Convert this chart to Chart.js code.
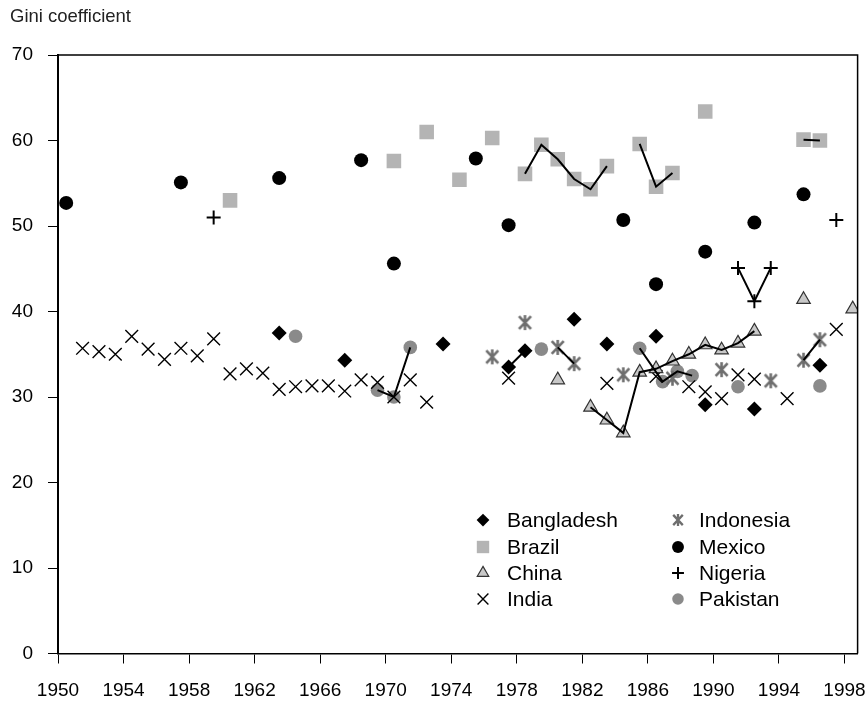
<!DOCTYPE html>
<html>
<head>
<meta charset="utf-8">
<script src="https://cdn.jsdelivr.net/npm/chart.js@4/dist/chart.umd.min.js"></script>
<style>
  body { margin: 0; background: #fff; }
</style>
</head>
<body>
<canvas id="giniChart" width="868" height="705"></canvas>
<script>
// Ticks of the year axis
let xTicks = [1950, 1954, 1958, 1962, 1966, 1970, 1974, 1978, 1982, 1986, 1990, 1994, 1998];

// Gini coefficient by country (years, values, and year ranges joined by a line)
let bangladeshYears = [1963, 1967, 1973, 1977, 1978, 1981, 1983, 1986, 1989, 1992, 1996];
let bangladeshGini = [37.5, 34.3, 36.2, 33.5, 35.4, 39.1, 36.2, 37.1, 29.1, 28.6, 33.7];
let bangladeshLinks = [[1977, 1978]];

let brazilYears = [1960, 1970, 1972, 1974, 1976, 1978, 1979, 1980, 1981, 1982, 1983, 1985, 1986, 1987, 1989, 1995, 1996];
let brazilGini = [53.0, 57.6, 61.0, 55.4, 60.3, 56.1, 59.5, 57.8, 55.5, 54.3, 57.0, 59.6, 54.6, 56.2, 63.4, 60.1, 60.0];
let brazilLinks = [[1978, 1983], [1985, 1987], [1995, 1996]];

let chinaYears = [1980, 1982, 1983, 1984, 1985, 1986, 1987, 1988, 1989, 1990, 1991, 1992, 1995, 1998];
let chinaGini = [32.0, 28.8, 27.3, 25.8, 32.9, 33.3, 34.2, 35.0, 36.1, 35.5, 36.3, 37.7, 41.4, 40.3];
let chinaLinks = [[1982, 1992]];

let indiaYears = [1951, 1952, 1953, 1954, 1955, 1956, 1957, 1958, 1959, 1960, 1961, 1962, 1963, 1964, 1965, 1966,
  1967, 1968, 1969, 1970, 1971, 1972, 1977, 1983, 1986, 1988, 1989, 1990, 1991, 1992, 1994, 1997];
let indiaGini = [35.7, 35.3, 35.0, 37.1, 35.6, 34.4, 35.7, 34.8, 36.8, 32.7, 33.3, 32.8, 30.9, 31.2, 31.3, 31.3,
  30.7, 32.0, 31.7, 30.0, 32.0, 29.4, 32.2, 31.6, 32.4, 31.2, 30.6, 29.8, 32.6, 32.1, 29.8, 37.9];
let indiaLinks = [];

let indonesiaYears = [1976, 1978, 1980, 1981, 1984, 1987, 1990, 1993, 1995, 1996];
let indonesiaGini = [34.7, 38.7, 35.8, 33.9, 32.6, 32.2, 33.2, 31.9, 34.3, 36.7];
let indonesiaLinks = [[1980, 1981], [1995, 1996]];

let mexicoYears = [1950, 1957, 1963, 1968, 1970, 1975, 1977, 1984, 1986, 1989, 1992, 1995];
let mexicoGini = [52.7, 55.1, 55.6, 57.7, 45.6, 57.9, 50.1, 50.7, 43.2, 47.0, 50.4, 53.7];
let mexicoLinks = [];

let nigeriaYears = [1959, 1991, 1992, 1993, 1997];
let nigeriaGini = [51.0, 45.1, 41.2, 45.1, 50.7];
let nigeriaLinks = [[1991, 1993]];

let pakistanYears = [1964, 1969, 1970, 1971, 1979, 1985, 1986.4, 1987.3, 1988.2, 1991, 1996];
let pakistanGini = [37.1, 30.8, 30.0, 35.8, 35.6, 35.7, 31.8, 33.0, 32.5, 31.2, 31.3];
let pakistanLinks = [[1969, 1971], [1985, 1988.2]];

// Asterisk marker for Indonesia
function makeAsterisk(size, width) {
  let c = document.createElement('canvas');
  c.width = size; c.height = size;
  let g = c.getContext('2d');
  let m = size / 2, a = size / 2 - 1;
  g.strokeStyle = '#6e6e6e';
  g.lineWidth = width;
  g.beginPath();
  g.moveTo(m, m - a); g.lineTo(m, m + a);
  g.moveTo(m - a * 0.8, m - a * 0.85); g.lineTo(m + a * 0.8, m + a * 0.85);
  g.moveTo(m + a * 0.8, m - a * 0.85); g.lineTo(m - a * 0.8, m + a * 0.85);
  g.stroke();
  return c;
}
let asterisk = makeAsterisk(17, 2.6);
let asteriskSmall = makeAsterisk(14, 2.3);

// Marker styles
let countries = [
  { label: 'Bangladesh', years: bangladeshYears, gini: bangladeshGini, links: bangladeshLinks,
    style: 'rectRot', radius: 7.5, fill: '#000', stroke: '#000', bw: 0 },
  { label: 'Brazil', years: brazilYears, gini: brazilGini, links: brazilLinks,
    style: 'rect', radius: 10.3, fill: '#b4b4b4', stroke: '#b4b4b4', bw: 0 },
  { label: 'China', years: chinaYears, gini: chinaGini, links: chinaLinks,
    style: 'triangle', radius: 7.8, fill: '#c8c8c8', stroke: '#333', bw: 1.2 },
  { label: 'India', years: indiaYears, gini: indiaGini, links: indiaLinks,
    style: 'crossRot', radius: 9, fill: '#000', stroke: '#000', bw: 1.4 },
  { label: 'Indonesia', years: indonesiaYears, gini: indonesiaGini, links: indonesiaLinks,
    style: asterisk, legendStyle: asteriskSmall, radius: 8, fill: '#6e6e6e', stroke: '#6e6e6e', bw: 0 },
  { label: 'Mexico', years: mexicoYears, gini: mexicoGini, links: mexicoLinks,
    style: 'circle', radius: 7, fill: '#000', stroke: '#000', bw: 0 },
  { label: 'Nigeria', years: nigeriaYears, gini: nigeriaGini, links: nigeriaLinks,
    style: 'cross', radius: 7, fill: '#000', stroke: '#000', bw: 2 },
  { label: 'Pakistan', years: pakistanYears, gini: pakistanGini, links: pakistanLinks,
    style: 'circle', radius: 6.8, fill: '#8a8a8a', stroke: '#8a8a8a', bw: 0 }
];

// points sit in the middle of their year
function points(c) {
  return c.years.map((y, i) => ({ x: y + 0.5, y: c.gini[i] }));
}

// line pieces, broken with nulls
function linePoints(c) {
  let out = [];
  c.links.forEach(([a, b]) => {
    c.years.forEach((y, i) => {
      if (y >= a && y <= b) out.push({ x: y + 0.5, y: c.gini[i] });
    });
    out.push({ x: b + 0.5, y: null });
  });
  return out;
}

let datasets = [];
countries.forEach(c => {
  datasets.push({
    label: c.label,
    data: points(c),
    showLine: false,
    pointStyle: c.style,
    pointRadius: c.radius,
    pointBackgroundColor: c.fill,
    pointBorderColor: c.stroke,
    pointBorderWidth: c.bw,
    order: 1
  });
  if (c.links.length) {
    datasets.push({
      label: c.label + ' line',
      data: linePoints(c),
      showLine: true,
      spanGaps: false,
      borderColor: '#000',
      borderWidth: 2,
      pointRadius: 0,
      order: 0
    });
  }
});

let font = { family: '"Liberation Sans", Arial, Helvetica, sans-serif', size: 19 };

// Frame, axis title and legend
let extras = {
  id: 'extras',
  afterDraw(chart) {
    let ctx = chart.ctx;
    let a = chart.chartArea;
    ctx.save();
    ctx.strokeStyle = '#000';
    ctx.lineWidth = 1.5;
    ctx.beginPath();
    ctx.moveTo(a.left, a.top); ctx.lineTo(a.right, a.top); ctx.lineTo(a.right, a.bottom);
    ctx.stroke();

    ctx.fillStyle = '#222';
    ctx.font = '18.5px "Liberation Sans", Arial, sans-serif';
    ctx.textBaseline = 'middle';
    ctx.textAlign = 'left';
    ctx.fillText('Gini coefficient', 10, 17);

    let cols = [[483, 507], [678, 699]];
    let rows = [520, 547, 573, 599];
    ctx.font = '21px "Liberation Sans", Arial, sans-serif';
    countries.forEach((c, i) => {
      let col = cols[Math.floor(i / 4)], y = rows[i % 4];
      ctx.save();
      ctx.fillStyle = c.fill;
      ctx.strokeStyle = c.stroke;
      ctx.lineWidth = c.bw;
      Chart.helpers.drawPoint(ctx, {
        pointStyle: c.legendStyle || c.style,
        radius: c.radius * 0.85,
        rotation: 0,
        borderWidth: c.bw
      }, col[0], y);
      ctx.restore();
      ctx.fillStyle = '#000';
      ctx.fillText(c.label, col[1], y + 1);
    });
    ctx.restore();
  }
};

let ctx = document.getElementById('giniChart').getContext('2d');
let chart = new Chart(ctx, {
  type: 'scatter',
  data: { datasets: datasets },
  options: {
    responsive: false,
    animation: false,
    layout: { padding: { top: 55, right: 9, left: 0, bottom: 0 } },
    plugins: {
      legend: { display: false },
      tooltip: { enabled: false }
    },
    scales: {
      x: {
        type: 'linear',
        min: 1950,
        max: 1998.8,
        afterBuildTicks: s => { s.ticks = xTicks.map(v => ({ value: v })); },
        afterFit: s => { s.height = 51.5; s.paddingLeft = 0; s.paddingRight = 0; },
        grid: { drawOnChartArea: false, drawTicks: true, tickLength: 10, color: '#000', lineWidth: 1 },
        border: { display: true, color: '#000', width: 1.5 },
        ticks: { padding: 16, color: '#000', font: font, maxRotation: 0, autoSkip: false,
          callback: v => String(v) }
      },
      y: {
        min: 0,
        max: 70,
        afterFit: s => { s.width = 58; s.paddingTop = 0; s.paddingBottom = 0; },
        grid: { drawOnChartArea: false, drawTicks: true, tickLength: 10, color: '#000', lineWidth: 1 },
        border: { display: true, color: '#000', width: 2 },
        ticks: { stepSize: 10, padding: 15, color: '#000', font: font }
      }
    }
  },
  plugins: [extras]
});
</script>
</body>
</html>
